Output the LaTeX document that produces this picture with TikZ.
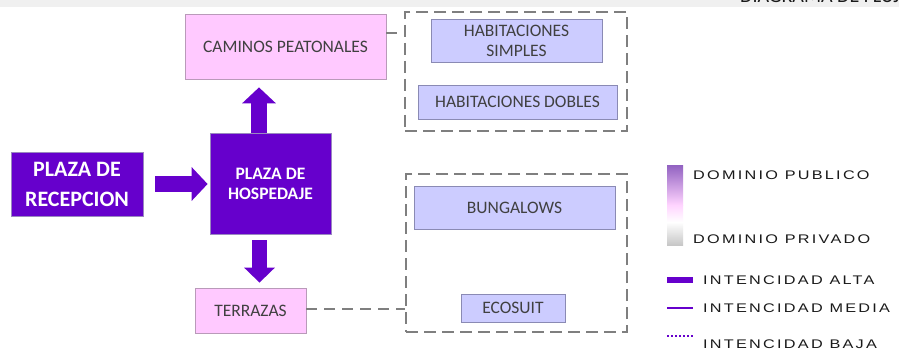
\documentclass[tikz,border=0pt]{standalone}
\usepackage{fontspec}
\setmainfont{Carlito}
\newfontfamily\legendfont[FakeStretch=1.3, LetterSpace=18]{Liberation Sans}
\usepackage{xcolor}
\usetikzlibrary{arrows.meta,positioning,calc}
\definecolor{Ink}{HTML}{1A1A1A}
\definecolor{Txt}{HTML}{404040}
\definecolor{Violet}{HTML}{6600CC}
\definecolor{VioletLine}{HTML}{9A88C0}
\definecolor{Pink}{HTML}{FFC9FF}
\definecolor{PinkLine}{HTML}{B99AB9}
\definecolor{Lilac}{HTML}{CCCCFF}
\definecolor{LilacLine}{HTML}{8A8AB4}
\definecolor{Dash}{HTML}{7F7F7F}
\definecolor{Band}{HTML}{F0F0F0}

\begin{document}
\begin{tikzpicture}[
  x=1pt, y=-1pt,
  box/.style={draw, line width=0.8pt, inner sep=0pt, align=center, font=\fontsize{17.5}{20}\selectfont, text=Txt},
  pinkbox/.style={box, fill=Pink, draw=PinkLine},
  lilacbox/.style={box, fill=Lilac, draw=LilacLine},
  plaza/.style={box, fill=Violet, draw=VioletLine, text=white},
  group/.style={draw=Dash, line width=2pt, dash pattern=on 12pt off 6pt, inner sep=0pt},
  link/.style={draw=Dash, line width=2pt, dash pattern=on 11pt off 7pt},
  flow/.style={draw=Violet, line width=16pt, -{Triangle[length=16pt, width=33pt]}},
  legend/.style={anchor=west, inner sep=0pt, font=\legendfont\fontsize{12.5}{14}\selectfont, text=Ink}
]
  \useasboundingbox (0,0) rectangle (899,350);
  \fill[white] (0,0) rectangle (899,350);
  \fill[Band] (0,0) rectangle (899,7);
  \node[anchor=base west, inner sep=0pt, font=\fontsize{20}{24}\selectfont, text=Ink] (title) at (740,3) {DIAGRAMA DE FLUJO};

  \node[plaza, minimum width=132pt, minimum height=64pt, font=\bfseries\fontsize{22}{30}\selectfont] (rec) at (77,184) {PLAZA DE\\RECEPCION};
  \node[plaza, minimum width=121pt, minimum height=101pt, font=\bfseries\fontsize{17.5}{20}\selectfont] (hosp) at (270.5,183.5) {PLAZA DE\\HOSPEDAJE};
  \node[pinkbox, minimum width=201pt, minimum height=65pt] (cam) at (285.5,46.5) {CAMINOS PEATONALES};
  \node[pinkbox, minimum width=111pt, minimum height=45pt] (ter) at (250.5,310.5) {TERRAZAS};

  \node[group, minimum width=222pt, minimum height=119pt] (grp1) at (516,71.5) {};
  \node[lilacbox, minimum width=171pt, minimum height=43pt] (simp) at (516.5,40.5) {HABITACIONES\\SIMPLES};
  \node[lilacbox, minimum width=199pt, minimum height=34pt] (dob) at (517.5,102) {HABITACIONES DOBLES};

  \node[group, minimum width=221pt, minimum height=158pt] (grp2) at (516.5,253) {};
  \node[lilacbox, minimum width=201pt, minimum height=43pt] (bung) at (514.5,207.5) {BUNGALOWS};
  \node[lilacbox, minimum width=104pt, minimum height=28pt] (eco) at (513,308) {ECOSUIT};

  \draw[flow, shorten <=12pt, shorten >=2pt] (rec.east) -- (rec.east -| hosp.west);
  \draw[flow] ([xshift=-11.5pt]hosp.north) -- ([xshift=-11.5pt]hosp.north |- cam.south) [shorten >=8pt];
  \draw[flow, line width=15pt, -{Triangle[length=15pt, width=30pt]}, shorten <=6pt, shorten >=5pt] ([xshift=-11pt]hosp.south) -- ([xshift=-11pt]hosp.south |- ter.north);
  \draw[link] ([yshift=13.5pt]cam.east) -- ([yshift=13.5pt]cam.east -| grp1.west);
  \draw[link] ([yshift=1.5pt]ter.east) -- ([yshift=1.5pt]ter.east -| grp2.west);

  \shade[top color=Violet!55!white!85!black, bottom color=Pink!80!white] (667,165) rectangle (683,205);
  \shade[top color=Pink!80!white, bottom color=white] (667,205) rectangle (683,222);
  \shade[top color=white, bottom color=black!22] (667,222) rectangle (683,245);
  \node[legend] (pub) at (693,175) {DOMINIO PUBLICO};
  \node[legend] (priv) at (693,239) {DOMINIO PRIVADO};
  \node[legend] (alta) at (703,280) {INTENCIDAD ALTA};
  \node[legend] (media) at (703,308) {INTENCIDAD MEDIA};
  \node[legend] (baja) at (703,344) {INTENCIDAD BAJA};
  \draw[Violet, line width=6pt] (667,280) -- (693,280);
  \draw[Violet, line width=2.5pt] (667,308) -- (693,308);
  \draw[Violet, line width=2pt, dash pattern=on 2pt off 2pt] (667,336) -- (693,336);
\end{tikzpicture}
\end{document}
